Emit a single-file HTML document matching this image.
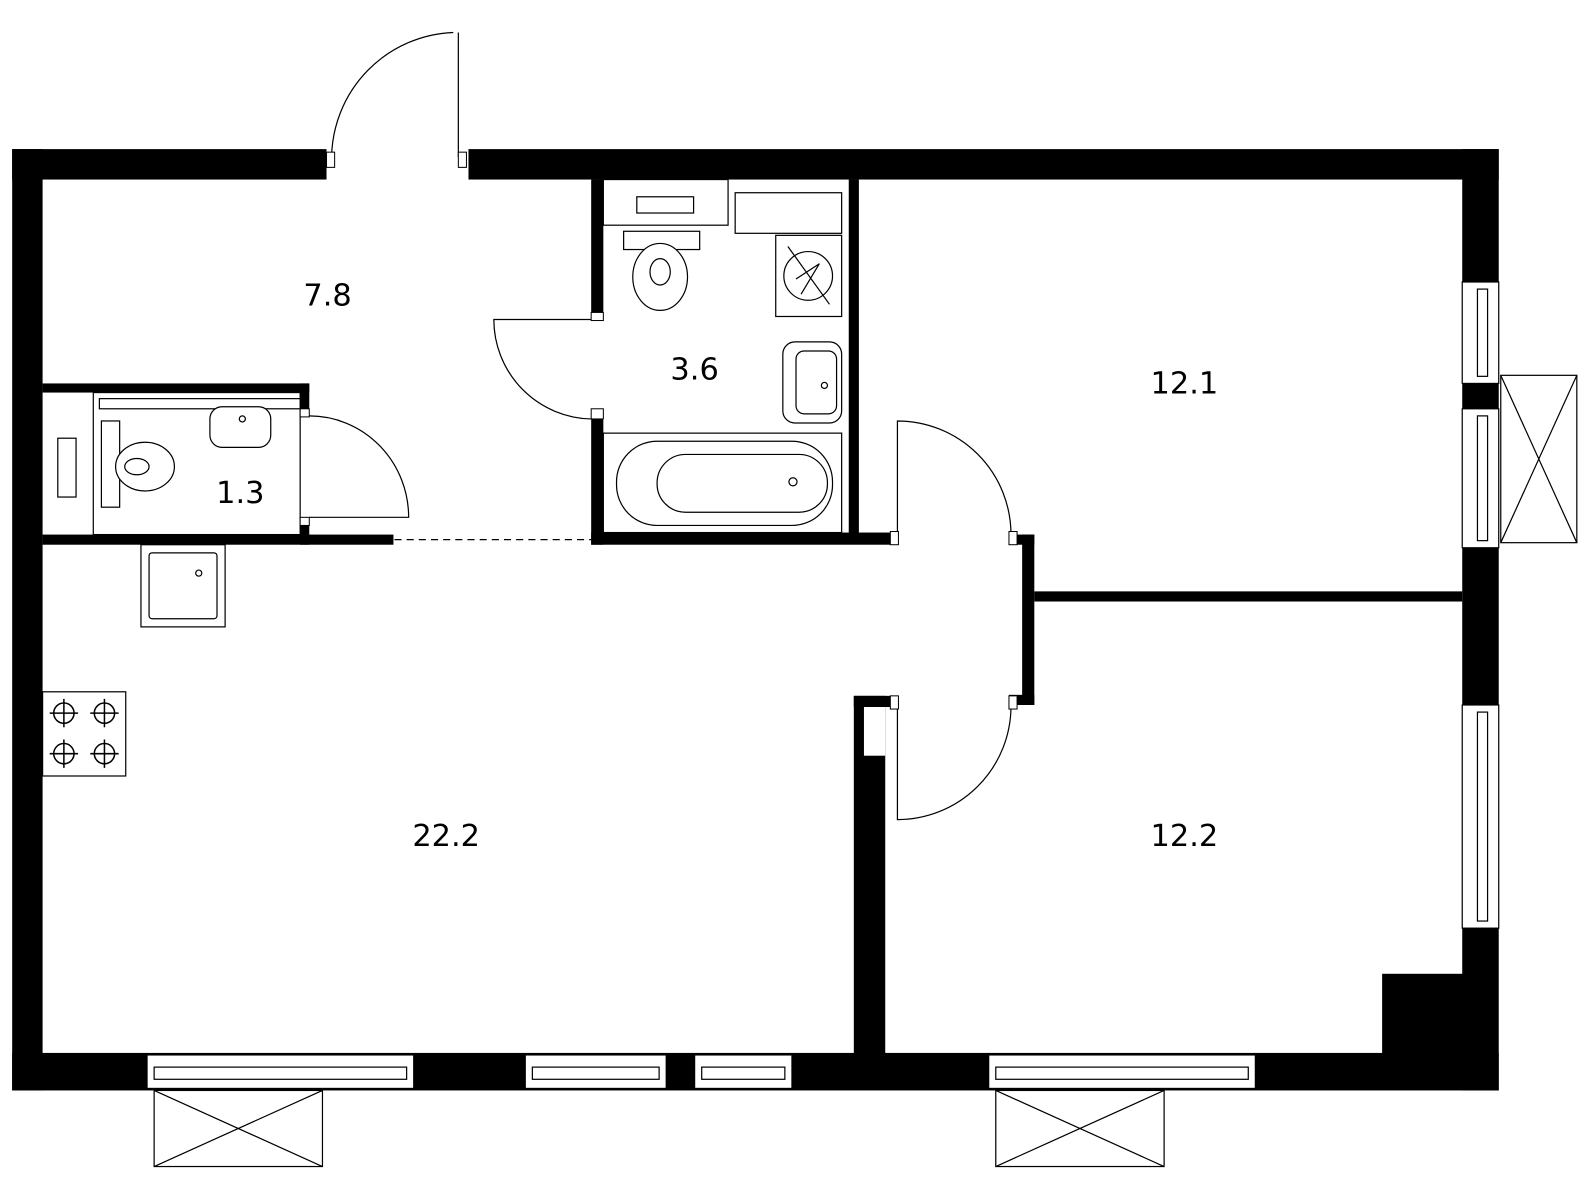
<!DOCTYPE html>
<html><head><style>html,body{margin:0;padding:0;background:#fff}svg{display:block}</style></head>
<body>
<svg width="1590" height="1200" viewBox="0 0 1568 1183" preserveAspectRatio="none" xmlns="http://www.w3.org/2000/svg">
<g fill="#000">
<rect x="12" y="147" width="310" height="30"/>
<rect x="462" y="147" width="1016" height="30"/>
<rect x="12" y="147" width="30" height="928"/>
<rect x="12" y="1038" width="1466" height="37"/>
<rect x="1442" y="147" width="36" height="928"/>
<rect x="1363" y="960" width="100" height="90"/>
<rect x="42" y="378" width="263" height="9"/>
<rect x="296" y="378" width="9" height="32"/>
<rect x="296" y="510" width="9" height="27"/>
<rect x="42" y="527" width="346" height="10"/>
<rect x="583" y="177" width="12" height="138"/>
<rect x="583" y="413" width="12" height="124"/>
<rect x="583" y="525" width="302" height="12"/>
<rect x="837" y="177" width="10" height="350"/>
<rect x="995" y="527" width="25" height="10"/>
<rect x="1008" y="527" width="12" height="168"/>
<rect x="995" y="685" width="25" height="10"/>
<rect x="1020" y="583" width="422" height="10"/>
<rect x="842" y="686" width="43" height="11"/>
<rect x="842" y="686" width="31" height="360"/>
</g>
<rect x="852" y="697" width="21" height="48" fill="#fff"/>
<g fill="#fff" stroke="#000" stroke-width="1.2">
<rect x="1442" y="278" width="36" height="100"/>
<rect x="1457" y="285" width="10" height="86"/>
<rect x="1442" y="403" width="36" height="137"/>
<rect x="1457" y="410" width="10" height="123"/>
<rect x="1442" y="695" width="36" height="220"/>
<rect x="1457" y="702" width="10" height="206"/>
<rect x="1480" y="370" width="75" height="165"/>
<rect x="145" y="1040" width="263" height="33"/><rect x="152" y="1052" width="249" height="12"/>
<rect x="518" y="1040" width="139" height="33"/><rect x="525" y="1052" width="125" height="12"/>
<rect x="685" y="1040" width="96" height="33"/><rect x="692" y="1052" width="82" height="12"/>
<rect x="975" y="1040" width="263" height="33"/><rect x="982" y="1052" width="249" height="12"/>
<rect x="152" y="1075" width="166" height="75"/>
<rect x="982" y="1075" width="166" height="75"/>
<rect x="139" y="537" width="83" height="81"/><rect x="147" y="545" width="67" height="65" rx="3"/>
<rect x="42" y="682" width="82" height="83"/>
<rect x="595" y="177" width="123" height="45"/>
<rect x="628" y="194" width="56" height="16"/>
<rect x="725" y="190" width="105" height="40"/>
<rect x="765" y="232" width="65" height="80"/>
<circle cx="797" cy="272" r="24"/>
<rect x="615" y="228" width="75" height="18"/>
<ellipse cx="651" cy="273" rx="27" ry="33"/><ellipse cx="651" cy="268" rx="10" ry="13"/>
<rect x="772" y="337" width="58" height="80" rx="12"/><rect x="785" y="346" width="40" height="62" rx="8"/>
<rect x="595" y="427" width="235" height="98"/>
<rect x="608" y="435" width="213" height="83" rx="40"/>
<rect x="648" y="448" width="168" height="57" rx="28"/>
<rect x="92" y="387" width="204" height="140"/>
<rect x="98" y="393" width="198" height="10"/>
<rect x="207" y="401" width="60" height="40" rx="12"/>
<rect x="100" y="415" width="18" height="85"/>
<ellipse cx="143" cy="460" rx="29" ry="24"/><ellipse cx="135" cy="460" rx="12" ry="8"/>
<rect x="57" y="432" width="18" height="58"/>
</g>
<g fill="none" stroke="#000" stroke-width="1.2">
<path d="M1480 370L1555 535M1555 370L1480 535"/>
<path d="M152 1075L318 1150M318 1075L152 1150M982 1075L1148 1150M1148 1075L982 1150"/>
<path d="M777 243L818 300M785 275L808 260L790 290"/>
<circle cx="813" cy="380" r="3"/><circle cx="782" cy="475" r="4"/><circle cx="196" cy="565" r="3"/>
<circle cx="239" cy="413" r="3"/>
<path d="M389 532H583" stroke-dasharray="7 5"/>
<path d="M452 32V155M447 32A125 125 0 0 0 327 155"/>
<path d="M595 315H487A98 98 0 0 0 583 413"/>
<path d="M305 410A98 100 0 0 1 403 510H305"/>
<path d="M885 527V415A112 112 0 0 1 997 527"/>
<path d="M885 697V808A112 112 0 0 0 997 697"/>
<g stroke-width="1.5">
<circle cx="63" cy="703" r="10"/><circle cx="103" cy="703" r="10"/><circle cx="63" cy="743" r="10"/><circle cx="103" cy="743" r="10"/>
<path d="M49 703H77M63 689V717M89 703H117M103 689V717M49 743H77M63 729V757M89 743H117M103 729V757"/>
</g>
</g>
<g fill="#fff" stroke="#000" stroke-width="1">
<rect x="322" y="150" width="8" height="15"/><rect x="452" y="150" width="8" height="15"/>
<rect x="583" y="308" width="12" height="8"/><rect x="583" y="403" width="12" height="10"/>
<rect x="296" y="403" width="9" height="8"/><rect x="296" y="510" width="9" height="8"/>
<rect x="878" y="524" width="8" height="13"/><rect x="995" y="524" width="8" height="13"/>
<rect x="878" y="686" width="8" height="13"/><rect x="995" y="686" width="8" height="13"/>
</g>
<g font-family="DejaVu Sans, sans-serif" font-size="30" text-anchor="middle" fill="#000">
<text x="323" y="301">7.8</text>
<text x="685" y="374">3.6</text>
<text x="237" y="496">1.3</text>
<text x="1168" y="388">12.1</text>
<text x="440" y="834">22.2</text>
<text x="1168" y="834">12.2</text>
</g>
</svg>
</body></html>
